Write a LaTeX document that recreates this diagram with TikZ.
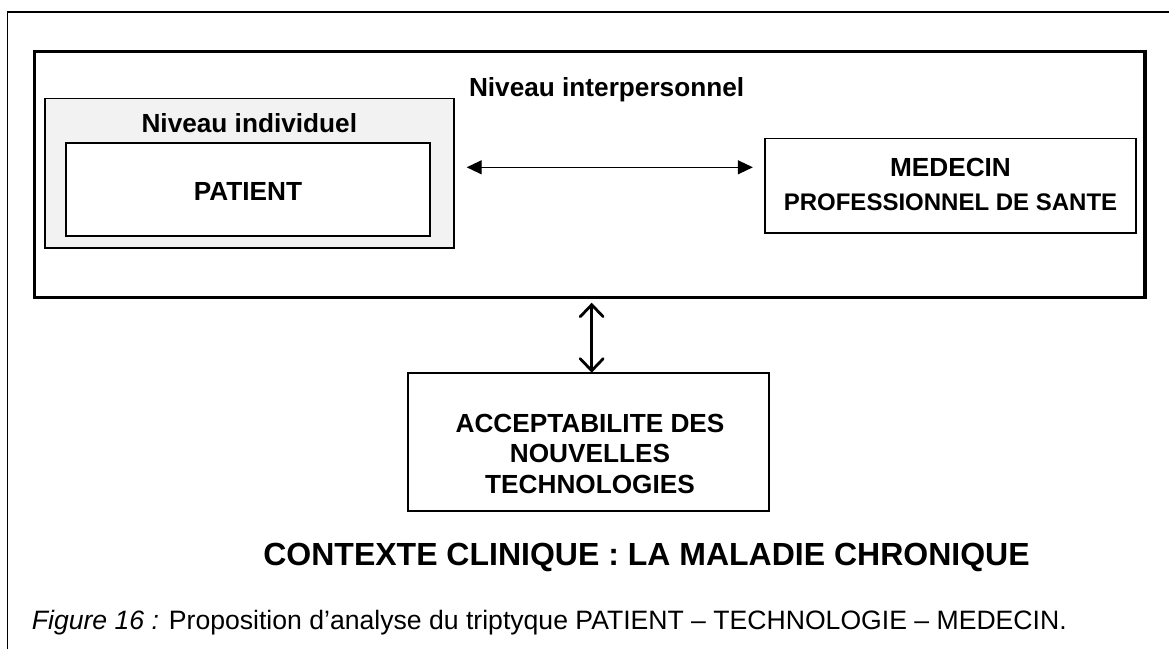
\documentclass[tikz,border=0pt]{standalone}
\usepackage{fontspec}
\setmainfont{Liberation Sans}
\usetikzlibrary{arrows.meta}
\begin{document}
\begin{tikzpicture}[x=1pt,y=-1pt,
  box/.style={draw=black,line width=1.6pt,inner sep=0pt,outer sep=0pt},
  lbl/.style={inner sep=0pt,anchor=base,font=\fontsize{26.2}{30}\selectfont\bfseries},
  smalllbl/.style={inner sep=0pt,anchor=base,font=\fontsize{24}{28}\selectfont\bfseries}]
\useasboundingbox[fill=white] (0,0) rectangle (1169,649);
% outer frame (partly cropped)
\draw[line width=1.8pt] (7.5,649) -- (7.5,11.7) -- (1169,11.7);
% boxes
\node[box,line width=3.6pt,minimum width=1110.4pt,minimum height=246pt] (inter) at (589.8,174.3) {};
\node[box,fill=black!5,minimum width=409.1pt,minimum height=149.4pt] (indiv) at (249.35,173) {};
\node[box,fill=white,minimum width=364.4pt,minimum height=93.3pt] (patient) at (248,189.35) {};
\node[box,minimum width=371.2pt,minimum height=94.4pt] (medecin) at (950.4,185.5) {};
\node[box,line width=1.8pt,minimum width=360.7pt,minimum height=138pt] (accept) at (588.65,441.7) {};
% texts
\node[lbl,anchor=base west] (tinter) at (468.8,96.7) {Niveau interpersonnel};
\node[lbl] (tindiv) at (249.3,132.7) {Niveau individuel};
\node[lbl] (tpatient) at (248,200) {PATIENT};
\node[lbl] (tmed1) at (950.5,176.7) {MEDECIN};
\node[smalllbl] (tmed2) at (950.5,210) {PROFESSIONNEL DE SANTE};
\node[lbl] (tacc1) at (590,432.3) {ACCEPTABILITE DES};
\node[lbl] (tacc2) at (590,462.7) {NOUVELLES};
\node[lbl] (tacc3) at (590,493.3) {TECHNOLOGIES};
\node[inner sep=0pt,anchor=base,font=\fontsize{32}{36}\selectfont\bfseries] (ctx) at (646.5,565.7) {CONTEXTE CLINIQUE : LA MALADIE CHRONIQUE};
\node[inner sep=0pt,anchor=base west,font=\fontsize{26.6}{30}\selectfont] (cap) at (31.7,629.3) {\textit{Figure 16 :} Proposition d’analyse du triptyque PATIENT – TECHNOLOGIE – MEDECIN.};
% connectors
\coordinate (hl) at ([xshift=12.8pt]indiv.east |- 0,167.3);
\coordinate (hr) at ([xshift=-12pt]medecin.west |- 0,167.3);
\draw[line width=1.3pt,{Triangle[length=15pt,width=14pt]}-{Triangle[length=15pt,width=14pt]}] (hl) -- (hr);
\coordinate (vt) at (591.7,302.7);
\coordinate (vb) at (591.7,372.7);
\draw[line width=2.8pt,{Straight Barb[length=12pt,width=23pt,line cap=round]}-{Straight Barb[length=12pt,width=23pt,line cap=round]}] (vt) -- (vb);
\end{tikzpicture}
\end{document}
